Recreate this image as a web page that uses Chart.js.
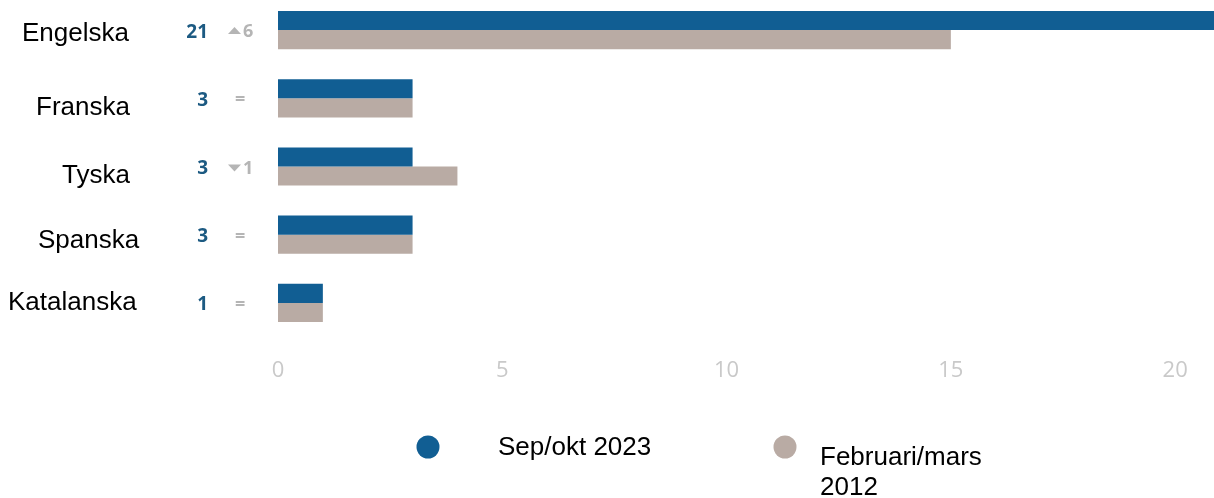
<!DOCTYPE html>
<html>
<head>
<meta charset="utf-8">
<script src="https://cdn.jsdelivr.net/npm/chart.js@4"></script>
<style>
html,body{margin:0;padding:0;background:#fff;overflow:hidden;width:1214px;height:498px;}
#wrap{position:absolute;left:0;top:-4px;width:1240px;height:502px;}
</style>
</head>
<body>
<div id="wrap"><canvas id="c" width="1240" height="502"></canvas></div>
<script>
const categories = ["Engelska", "Franska", "Tyska", "Spanska", "Katalanska"];
const series2023 = [21, 3, 3, 3, 1];
const series2012 = [15, 3, 4, 3, 1];
const seriesNames = ["Sep/okt 2023", ["Februari/mars", "2012"]];
const tickValues = [0, 5, 10, 15, 20];

const BLUE = "#115e93";
const BEIGE = "#b9aba4";

// label styling (left x of each category label, vertical nudge)
const labelStyle = [
  {x: 22, dy: 4}, {x: 36, dy: 10}, {x: 62, dy: 9}, {x: 38, dy: 6}, {x: 8, dy: 0}
];

const sidePlugin = {
  id: "side",
  afterDraw(chart) {
    const ctx = chart.ctx;
    const y = chart.scales.y;
    ctx.save();
    categories.forEach((c, i) => {
      const py = y.getPixelForValue(i);
      ctx.font = "26px 'Liberation Sans', Arial, sans-serif";
      ctx.fillStyle = "#000";
      ctx.textAlign = "left";
      ctx.textBaseline = "middle";
      ctx.fillText(c, labelStyle[i].x, py + labelStyle[i].dy);
      const v = series2023[i];
      ctx.font = "bold 19px 'Open Sans', 'DejaVu Sans', sans-serif";
      ctx.fillStyle = "#1c5a82";
      ctx.textAlign = "right";
      ctx.fillText(String(v), 208, py + 2);
      const d = series2023[i] - series2012[i];
      ctx.fillStyle = "#b5b5b5";
      ctx.textAlign = "left";
      ctx.font = "bold 18px 'Open Sans', 'DejaVu Sans', sans-serif";
      if (d === 0) {
        ctx.fillText("=", 235, py + 2);
      } else {
        const up = d > 0;
        ctx.beginPath();
        if (up) {
          ctx.moveTo(228, py + 4); ctx.lineTo(241, py + 4); ctx.lineTo(234.5, py - 3);
        } else {
          ctx.moveTo(228, py - 2); ctx.lineTo(241, py - 2); ctx.lineTo(234.5, py + 5);
        }
        ctx.closePath();
        ctx.fill();
        ctx.fillText(String(Math.abs(d)), 243, py + 2);
      }
    });
    const ds = chart.data.datasets;
    const items = [
      {cx: 428, tx: 498, cy: 451},
      {cx: 785, tx: 820, cy: 451}
    ];
    ds.forEach((d, i) => {
      const it = items[i];
      ctx.beginPath();
      ctx.fillStyle = d.backgroundColor;
      ctx.arc(it.cx, it.cy, 11.5, 0, Math.PI * 2);
      ctx.fill();
      ctx.fillStyle = "#000";
      ctx.font = "26px 'Liberation Sans', Arial, sans-serif";
      ctx.textAlign = "left";
      ctx.textBaseline = "middle";
      const lines = Array.isArray(d.label) ? d.label : [d.label];
      const y0 = lines.length > 1 ? it.cy + 11 : it.cy + 1;
      lines.forEach((ln, k) => ctx.fillText(ln, it.tx, y0 + k * 30));
    });
    ctx.restore();
  }
};

new Chart(document.getElementById("c"), {
  type: "bar",
  data: {
    labels: categories,
    datasets: [
      {label: seriesNames[0], data: series2023, backgroundColor: BLUE},
      {label: seriesNames[1], data: series2012, backgroundColor: BEIGE}
    ]
  },
  options: {
    indexAxis: "y",
    responsive: false,
    animation: false,
    layout: {padding: {left: 278, right: 20, top: 0, bottom: 101}},
    categoryPercentage: 0.56,
    barPercentage: 1.0,
    plugins: {legend: {display: false}, tooltip: {enabled: false}},
    scales: {
      y: {display: false},
      x: {
        min: 0, max: 21,
        grid: {display: false, drawTicks: false},
        border: {display: false},
        afterBuildTicks(scale) { scale.ticks = tickValues.map(v => ({value: v})); },
        afterFit(scale) { scale.height = 60; },
        ticks: {
          padding: 21,
          color: "#c9c9c9",
          font: {family: "'Open Sans', sans-serif", size: 22}
        }
      }
    }
  },
  plugins: [sidePlugin]
});
</script>
</body>
</html>
